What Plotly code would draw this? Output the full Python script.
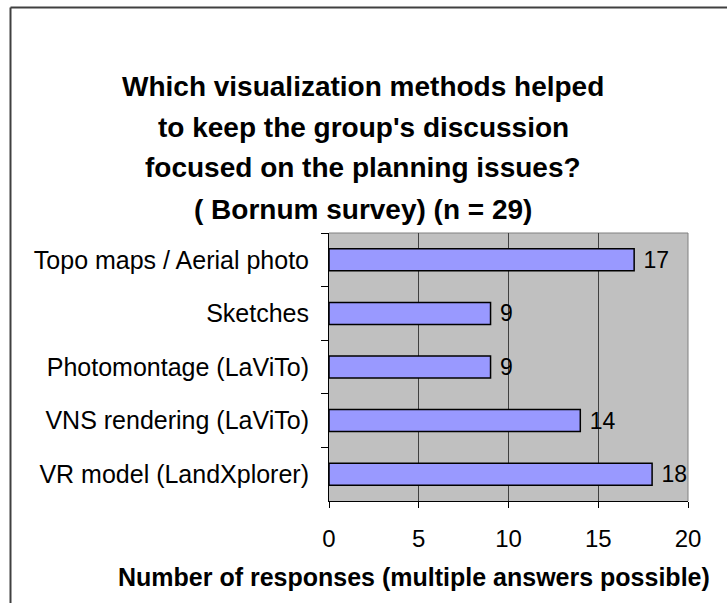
import plotly.graph_objects as go

# Survey results
methods = [
    "Topo maps / Aerial photo",
    "Sketches",
    "Photomontage (LaViTo)",
    "VNS rendering (LaViTo)",
    "VR model (LandXplorer)",
]
responses = [17, 9, 9, 14, 18]

title_lines = [
    "Which visualization methods helped",
    "to keep the group's discussion",
    "focused on the planning issues?",
    "( Bornum survey) (n = 29)",
]
x_title = "Number of responses (multiple answers possible)"
x_ticks = [0, 5, 10, 15, 20]

W, H = 727, 603
ML, MR, MT, MB = 329, 39, 233, 102
PW, PH = W - ML - MR, H - MT - MB
FONT = "Liberation Sans, Arial, sans-serif"


def px_x(px):
    return (px - ML) / PW


def px_y(py):
    return (H - MB - py) / PH


fig = go.Figure(
    go.Bar(
        x=responses,
        y=methods,
        orientation="h",
        marker=dict(color="#9999FF", line=dict(color="black", width=1.5)),
        texttemplate=" %{x}",
        textposition="outside",
        constraintext="none",
        textfont=dict(family=FONT, size=23, color="black"),
        cliponaxis=False,
        width=0.41,
    )
)

fig.update_layout(
    width=W,
    height=H,
    margin=dict(l=ML, r=MR, t=MT, b=MB, pad=0),
    paper_bgcolor="white",
    plot_bgcolor="#C0C0C0",
    showlegend=False,
    font=dict(family=FONT, size=23, color="black"),
)

fig.update_xaxes(
    range=[0, 20],
    tickvals=x_ticks,
    ticks="outside",
    ticklen=6,
    tickcolor="black",
    showline=True,
    linecolor="black",
    linewidth=1,
    showgrid=True,
    gridcolor="#404040",
    gridwidth=1,
    zeroline=False,
    ticklabelstandoff=10,
    tickfont=dict(size=24),
)

fig.update_yaxes(
    categoryorder="array",
    categoryarray=methods,
    autorange="reversed",
    ticks="outside",
    tickson="boundaries",
    ticklen=7,
    tickcolor="black",
    showline=True,
    linecolor="black",
    linewidth=1,
    showgrid=False,
    ticklabelstandoff=14,
    tickfont=dict(size=25),
)

shapes = [
    # plot area frame (top and right edges)
    dict(type="line", xref="paper", yref="paper", x0=0, x1=1, y0=1, y1=1,
         line=dict(color="#808080", width=1), layer="below"),
    dict(type="line", xref="paper", yref="paper", x0=1, x1=1, y0=0, y1=1,
         line=dict(color="#808080", width=1), layer="below"),
    # chart frame
    dict(type="line", xref="paper", yref="paper", x0=px_x(10.5), x1=px_x(W + 5),
         y0=px_y(7.5), y1=px_y(7.5), line=dict(color="#404040", width=2)),
    dict(type="line", xref="paper", yref="paper", x0=px_x(10.5), x1=px_x(10.5),
         y0=px_y(7.5), y1=px_y(H + 5), line=dict(color="#404040", width=2)),
]

annotations = []
for i, line in enumerate(title_lines):
    annotations.append(dict(
        text=f"<b>{line}</b>", xref="paper", yref="paper",
        x=px_x(363), y=px_y(86 + i * 41), xanchor="center", yanchor="middle",
        showarrow=False, font=dict(family=FONT, size=28, color="black"),
    ))
annotations.append(dict(
    text=f"<b>{x_title}</b>", xref="paper", yref="paper",
    x=px_x(414), y=px_y(577), xanchor="center", yanchor="middle",
    showarrow=False, font=dict(family=FONT, size=25, color="black"),
))

fig.update_layout(shapes=shapes, annotations=annotations)

fig.write_html("out.html")
